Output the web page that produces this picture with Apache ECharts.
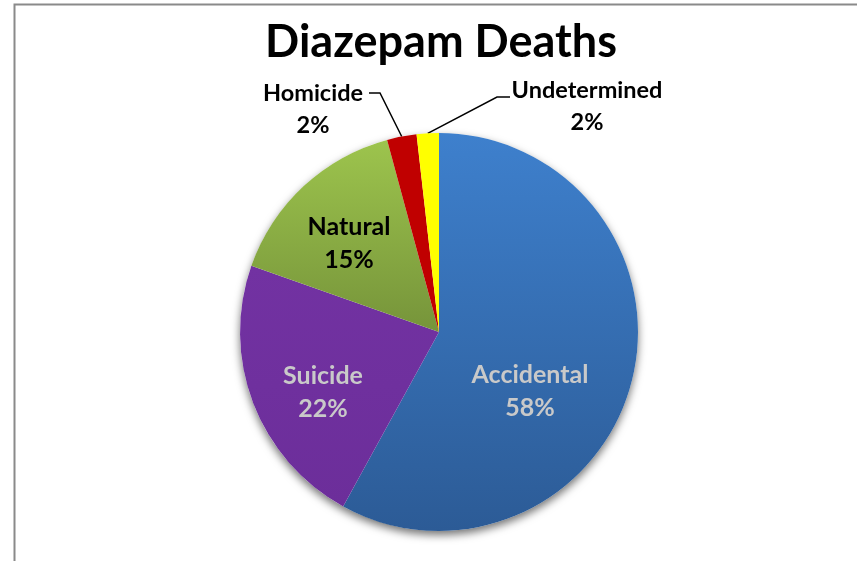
<!DOCTYPE html>
<html>
<head>
<meta charset="utf-8">
<script src="https://cdn.jsdelivr.net/npm/echarts@6/dist/echarts.min.js"></script>
<style>
  html, body { margin: 0; padding: 0; background: #fff; }
  #chart { width: 857px; height: 561px; }
</style>
</head>
<body>
<div id="chart"></div>
<script>
// Manner-of-death breakdown (percent of total)
const categories = ['Accidental', 'Suicide', 'Natural', 'Homicide', 'Undetermined'];
const shares = [58.0, 22.4, 15.4, 2.4, 1.8];

// Slice fills: [top colour, bottom colour]
const fills = [
  ['#3e80cd', '#2c5b96'],
  ['#7232a2', '#6c2e9a'],
  ['#9dc44d', '#76943a'],
  ['#c00000', '#c00000'],
  ['#ffff00', '#ffff00']
];
const labelColours = ['#c9c9c9', '#c9c9c9', '#000000', '#000000', '#000000'];
const outsideLabel = [false, false, false, true, true];

// Label anchor positions and leader-line bends (pixels)
const labelSpots = {
  Accidental:   { x: 530, y: 391 },
  Suicide:      { x: 323, y: 392 },
  Natural:      { x: 349, y: 243 },
  Homicide:     { x: 313, y: 109, bend: [380, 93], end: [369, 93] },
  Undetermined: { x: 587, y: 106, bend: [497, 97], end: [510, 97] }
};

const FONT = 'Lato, "Open Sans", sans-serif';
const CENTER = [439, 332];
const RADIUS = 199;

const chart = echarts.init(document.getElementById('chart'), null, { renderer: 'canvas' });

const pieData = categories.map((name, i) => ({
  name,
  value: shares[i],
  itemStyle: {
    color: {
      type: 'linear', x: 0, y: 0, x2: 0, y2: 1,
      colorStops: [
        { offset: 0, color: fills[i][0] },
        { offset: 1, color: fills[i][1] }
      ]
    }
  },
  label: {
    position: outsideLabel[i] ? 'outside' : 'inside',
    color: labelColours[i],
    fontSize: outsideLabel[i] ? 23.5 : 25,
    lineHeight: outsideLabel[i] ? 32 : 33
  },
  labelLine: { show: outsideLabel[i] }
}));

chart.setOption({
  animation: false,
  backgroundColor: '#ffffff',
  title: {
    text: 'Diazepam Deaths',
    left: 436,
    top: 15,
    textAlign: 'center',
    textStyle: { fontFamily: FONT, fontWeight: 'bold', fontSize: 45, color: '#000' }
  },
  graphic: [{
    type: 'rect',
    shape: { x: 14.5, y: 4.5, width: 900, height: 600 },
    style: { fill: 'none', stroke: '#8a8a8a', lineWidth: 2 },
    silent: true
  }],
  series: [
    {
      // soft drop shadow behind the pie
      type: 'pie',
      silent: true,
      z: 1,
      center: CENTER,
      radius: RADIUS,
      label: { show: false },
      labelLine: { show: false },
      itemStyle: {
        color: '#ffffff',
        shadowColor: 'rgba(0,0,0,0.55)',
        shadowBlur: 9,
        shadowOffsetY: 4
      },
      data: [{ value: 1, name: '' }]
    },
    {
      type: 'pie',
      z: 2,
      center: CENTER,
      radius: RADIUS,
      startAngle: 90,
      clockwise: true,
      avoidLabelOverlap: false,
      itemStyle: { borderWidth: 0 },
      label: {
        fontFamily: FONT,
        fontWeight: 'bold',
        align: 'center',
        formatter: p => p.name + '\n' + Math.round(p.percent) + '%'
      },
      labelLine: {
        lineStyle: { color: '#000', width: 1.5 }
      },
      labelLayout: params => {
        const name = categories[params.dataIndex];
        const spot = labelSpots[name];
        const out = { x: spot.x, y: spot.y, align: 'center', verticalAlign: 'middle' };
        if (spot.bend && params.labelLinePoints) {
          out.labelLinePoints = [params.labelLinePoints[0], spot.bend, spot.end];
        }
        return out;
      },
      data: pieData
    }
  ]
});
</script>
</body>
</html>
